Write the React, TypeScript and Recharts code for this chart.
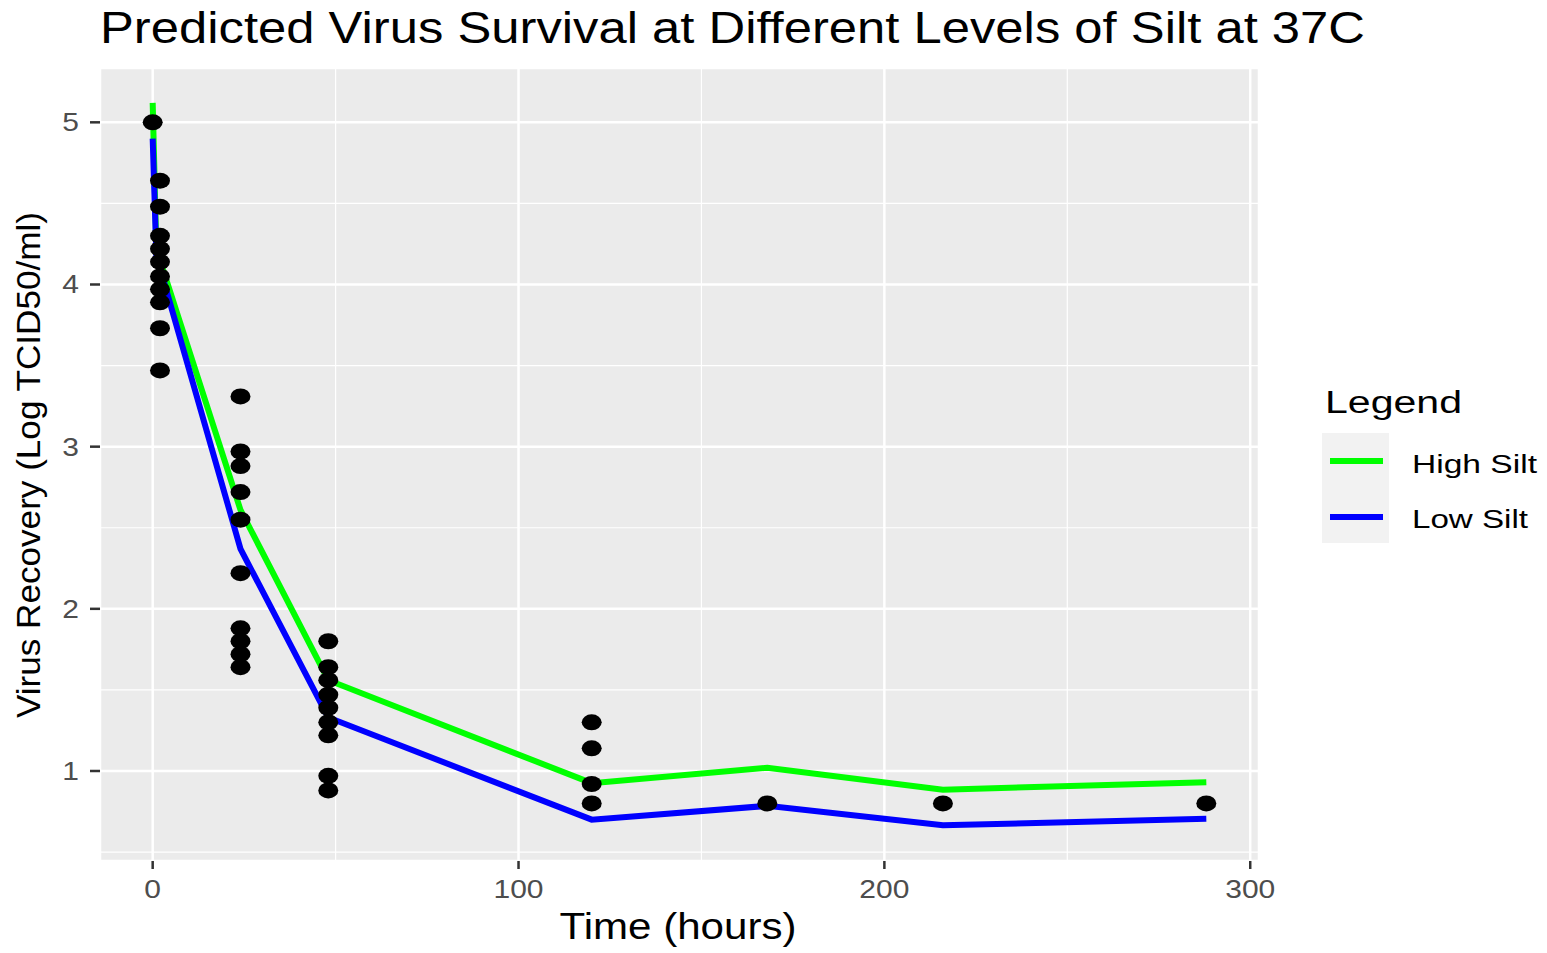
import React from "react";
import {
  ComposedChart,
  Line,
  Scatter,
  XAxis,
  YAxis,
  CartesianGrid,
  ReferenceLine,
  Legend,
} from "recharts";

// observed recoveries (hours, log TCID50/ml)
const obsTime = [
  0, 2, 2, 2, 2, 2, 2, 2, 2, 2, 2,
  24, 24, 24, 24, 24, 24, 24, 24, 24, 24,
  48, 48, 48, 48, 48, 48, 48, 48, 48,
  120, 120, 120, 120,
  168, 216, 288,
];
const obsValue = [
  5.0, 4.64, 4.48, 4.3, 4.22, 4.14, 4.05, 3.97, 3.89, 3.73, 3.47,
  3.31, 2.97, 2.88, 2.72, 2.55, 2.22, 1.88, 1.8, 1.72, 1.64,
  1.8, 1.64, 1.56, 1.47, 1.39, 1.3, 1.22, 0.97, 0.88,
  1.3, 1.14, 0.92, 0.8,
  0.8, 0.8, 0.8,
];

// predicted curves
const predTime = [0, 1, 24, 48, 120, 168, 216, 288];
const highSilt = [5.12, 4.22, 2.61, 1.56, 0.925, 1.02, 0.885, 0.93];
const lowSilt = [4.9, 4.18, 2.37, 1.33, 0.7, 0.785, 0.665, 0.705];

const xTicks = [0, 100, 200, 300];
const yTicks = [1, 2, 3, 4, 5];
const xMinor = [50, 150, 250];
const yMinor = [0.5, 1.5, 2.5, 3.5, 4.5];

const points = obsTime.map((t, i) => ({ t, v: obsValue[i] }));
const highData = predTime.map((t, i) => ({ t, v: highSilt[i] }));
const lowData = predTime.map((t, i) => ({ t, v: lowSilt[i] }));

const FONT = "'Liberation Sans', Arial, sans-serif";

const Dot = (p: any) => (
  <ellipse cx={p.cx} cy={p.cy} rx={10} ry={8} fill="#000" />
);

const XTick = (p: any) => (
  <g transform={`translate(${p.x},${p.y + 27}) scale(1.2,1)`}>
    <text textAnchor="middle" fontSize={25} fill="#4D4D4D" fontFamily={FONT}>
      {p.payload.value}
    </text>
  </g>
);

const YTick = (p: any) => (
  <g transform={`translate(${p.x},${p.y + 9}) scale(1.2,1)`}>
    <text textAnchor="end" fontSize={25} fill="#4D4D4D" fontFamily={FONT}>
      {p.payload.value}
    </text>
  </g>
);

const LegendBox = (props: any) => {
  const items = (props.payload || []).filter((e: any) => e.type !== "none");
  return (
    <svg width={257} height={180} style={{ display: "block" }}>
      <text x={35} y={38} fontSize={31} fontFamily={FONT} textLength={137} lengthAdjust="spacingAndGlyphs">
        Legend
      </text>
      <rect x={32} y={58} width={67} height={110} fill="#F2F2F2" />
      {items.map((e: any, i: number) => (
        <g key={e.value}>
          <line x1={40} x2={93} y1={86 + i * 56} y2={86 + i * 56} stroke={e.color} strokeWidth={6} />
          <text
            x={122}
            y={98 + i * 55}
            fontSize={26}
            fontFamily={FONT}
            fill="#000"
            textLength={e.value === "High Silt" ? 125 : 116}
            lengthAdjust="spacingAndGlyphs"
          >
            {e.value}
          </text>
        </g>
      ))}
    </svg>
  );
};

export default function App() {
  return (
    <div style={{ position: "absolute", left: 0, top: 0, width: 1547, height: 953, background: "#fff" }}>
      <ComposedChart
        width={1547}
        height={953}
        margin={{ top: 68, right: 288, bottom: 0, left: 0 }}
      >
        <CartesianGrid fill="#EBEBEB" stroke="#FFFFFF" strokeWidth={2.5} />
        {xMinor.map((x) => (
          <ReferenceLine key={"x" + x} x={x} stroke="#FFFFFF" strokeWidth={1.2} />
        ))}
        {yMinor.map((y) => (
          <ReferenceLine key={"y" + y} y={y} stroke="#FFFFFF" strokeWidth={1.2} />
        ))}
        <XAxis
          dataKey="t"
          type="number"
          domain={[-14.4, 302.4]}
          ticks={xTicks}
          allowDataOverflow
          height={92}
          axisLine={false}
          tickSize={8}
          tickLine={{ stroke: "#333333", strokeWidth: 2.5 }}
          tick={XTick}
        />
        <YAxis
          dataKey="v"
          type="number"
          domain={[0.445, 5.335]}
          ticks={yTicks}
          allowDataOverflow
          width={100}
          axisLine={false}
          tickSize={10}
          tickMargin={11}
          tickLine={{ stroke: "#333333", strokeWidth: 2.5 }}
          tick={YTick}
        />
        <Scatter
          name="obs"
          data={points}
          dataKey="v"
          shape={Dot}
          legendType="none"
          isAnimationActive={false}
        />
        <Line
          name="High Silt"
          data={highData}
          dataKey="v"
          stroke="#00FF00"
          strokeWidth={6}
          dot={false}
          activeDot={false}
          type="linear"
          isAnimationActive={false}
        />
        <Line
          name="Low Silt"
          data={lowData}
          dataKey="v"
          stroke="#0000FF"
          strokeWidth={6}
          dot={false}
          activeDot={false}
          type="linear"
          isAnimationActive={false}
        />
        <Legend
          layout="vertical"
          align="center"
          verticalAlign="middle"
          wrapperStyle={{ left: 1290, top: 375, width: 257 }}
          content={LegendBox}
        />
      </ComposedChart>
      <svg
        width={1547}
        height={953}
        style={{ position: "absolute", left: 0, top: 0, pointerEvents: "none" }}
      >
        <text x={100} y={43} fontSize={44} fontFamily={FONT} textLength={1265} lengthAdjust="spacingAndGlyphs">
          Predicted Virus Survival at Different Levels of Silt at 37C
        </text>
        <text x={678} y={939} fontSize={36} textAnchor="middle" fontFamily={FONT} textLength={237} lengthAdjust="spacingAndGlyphs">
          Time (hours)
        </text>
        <text
          transform="translate(40,465) rotate(-90)"
          fontSize={33}
          textAnchor="middle"
          fontFamily={FONT}
          textLength={506}
          lengthAdjust="spacingAndGlyphs"
        >
          Virus Recovery (Log TCID50/ml)
        </text>
      </svg>
    </div>
  );
}
